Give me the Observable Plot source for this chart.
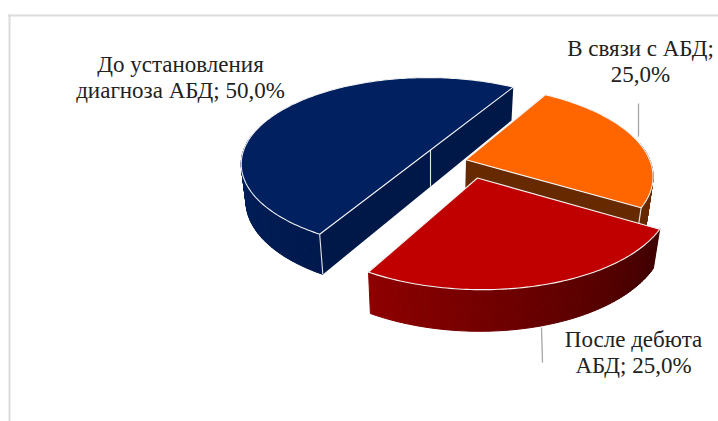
<!DOCTYPE html>
<html lang="ru">
<head>
<meta charset="utf-8">
<style>
  html, body { margin: 0; padding: 0; background: #fff; }
  svg { display: block; }
</style>
<script src="https://cdn.jsdelivr.net/npm/d3@7"></script>
<script src="https://cdn.jsdelivr.net/npm/@observablehq/plot@0.6"></script>
</head>
<body>
<script>
// Shares of the three groups, in drawing order (clockwise).
const categoryLines = [
  ["До установления", "диагноза АБД"],
  ["В связи с АБД"],
  ["После дебюта", "АБД"]
];
const shares = [50, 25, 25];

// Colours of each slice: top face, cut face, outer rim (left and right end of its shading).
const topColors = ["#002060", "#ff6600", "#c00000"];
const cutColors = ["#001848", "#662900", "#4a0000"];
const rimLeft = ["#00215f", "#662900", "#8e0000"];
const rimRight = ["#00194d", "#662900", "#3e0000"];

// How far each slice is pulled out of the pie, in pie radii on the table plane.
const pullX = [0, 0.19, 0.243];
const pullY = [0, 0.115, 0.318];

// Label and leader line placement.
const labelX = [180, 640, 633];
const labelY = [76, 60, 351];
const leaderLines = [
  {x1: 638, y1: 103, x2: 638, y2: 136},
  {x1: 541, y1: 327, x2: 542, y2: 362}
];

// Camera of the tilted pie.
const camera = {cx: 430, cy: 149.5, radius: 184, tilt: 0.4565, depth: 37.5, py: 0.16, px: 0.015, pz: 0.025};

function project(X, Y, Z = 0) {
  const {cx, cy, radius, tilt, depth, py, px, pz} = camera;
  const w = 1 - py * Y + px * X + pz * Z;
  return {x: cx + radius * X / w, y: cy + (radius * tilt * Y + depth * Z) / w};
}

const deg = Math.PI / 180;
const slices = d3.pie().sort(null).startAngle(211 * deg).endAngle(571 * deg)(shares);

// Points of a slice on the top (Z=0) or bottom (Z=1) plane.
const rimPoint = (i, a, Z = 0) => project(pullX[i] + Math.sin(a), pullY[i] - Math.cos(a), Z);
const apex = (i, Z = 0) => project(pullX[i], pullY[i], Z);

function arcAngles(a0, a1) {
  const n = Math.max(2, Math.ceil((a1 - a0) / deg));
  return d3.range(n + 1).map((j) => a0 + (a1 - a0) * j / n);
}

const marks = [];

// Chart frame: only its top and left sides are on the page.
marks.push(Plot.ruleY([15], {x1: 8, x2: 718, stroke: "#dcdcdc", strokeWidth: 2}));
marks.push(Plot.ruleX([9], {y1: 14, y2: 421, stroke: "#dcdcdc", strokeWidth: 2}));

// Leader lines sit under the slices.
marks.push(Plot.link(leaderLines, {x1: "x1", y1: "y1", x2: "x2", y2: "y2", stroke: "#a6a6a6", strokeWidth: 1.3}));

slices.forEach((s, i) => {
  const a0 = s.startAngle, a1 = s.endAngle;

  // Outer rim facing the viewer, split into narrow strips so it can carry a shade running along it.
  const angles = arcAngles(a0, a1).filter((a) => Math.cos(a) < 0.2);
  const rimStrips = [];
  angles.slice(1).forEach((a, j) => {
    const b = angles[j];
    const t = j / Math.max(1, angles.length - 2);
    const fill = d3.interpolateRgb(rimRight[i], rimLeft[i])(t);
    const corners = [rimPoint(i, b), rimPoint(i, a), rimPoint(i, a, 1), rimPoint(i, b, 1), rimPoint(i, b)];
    corners.forEach((c) => rimStrips.push({...c, strip: j, fill}));
  });
  marks.push(Plot.line(rimStrips, {x: "x", y: "y", z: "strip", fill: "fill", stroke: "fill", strokeWidth: 1, curve: "linear"}));

  // Cut face turned towards the viewer: the full diameter for the half slice, the end radius otherwise.
  if (i < 2) {
    const near = i === 0 ? a0 : a1;
    const cutStart = i === 0 ? rimPoint(i, a1) : apex(i);
    const cutStartLow = i === 0 ? rimPoint(i, a1, 1) : apex(i, 1);
    const cutEnd = rimPoint(i, near);
    const cutEndLow = rimPoint(i, near, 1);
    marks.push(Plot.line([cutStart, cutEnd, cutEndLow, cutStartLow, cutStart], {
      x: "x", y: "y", fill: cutColors[i], stroke: "none", curve: "linear"
    }));
    // Pale creases down the cut face.
    const creases = [{from: cutEnd, to: cutEndLow}];
    if (i === 0) creases.push({from: apex(i), to: apex(i, 1)});
    marks.push(Plot.link(creases, {
      x1: (d) => d.from.x, y1: (d) => d.from.y, x2: (d) => d.to.x, y2: (d) => d.to.y,
      stroke: "#e4e4e4", strokeWidth: 1.1
    }));
  }

  // Top face.
  const outline = [apex(i), ...arcAngles(a0, a1).map((a) => rimPoint(i, a)), apex(i)];
  marks.push(Plot.line(outline, {
    x: "x", y: "y", fill: topColors[i], stroke: "#f2f2f2", strokeWidth: 1.1, curve: "linear"
  }));
});

// Data labels: name, then the share with a decimal comma.
const percent = (v) => v.toFixed(1).replace(".", ",") + "%";
const labels = slices.map((s, i) => {
  const lines = categoryLines[i];
  const text = lines.length > 1
    ? lines.join("\n") + "; " + percent(s.value)
    : lines[0] + ";\n" + percent(s.value);
  return {text, x: labelX[i], y: labelY[i]};
});
marks.push(Plot.text(labels, {
  x: "x", y: "y", text: "text", fill: "#222", fontSize: 23, lineHeight: 1.157,
  fontFamily: "'Liberation Serif', serif", lineAnchor: "middle", textAnchor: "middle"
}));

document.body.append(Plot.plot({
  width: 718,
  height: 421,
  margin: 0,
  x: {domain: [0, 718], axis: null},
  y: {domain: [421, 0], axis: null},
  color: {type: "identity"},
  marks
}));
</script>
</body>
</html>
